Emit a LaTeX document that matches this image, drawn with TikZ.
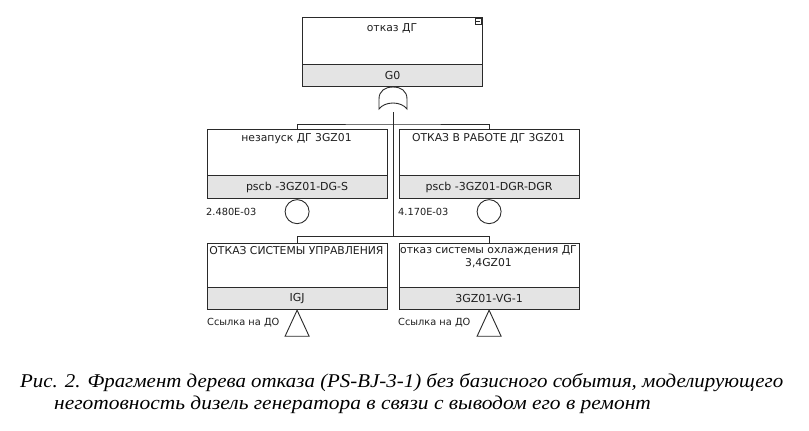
\documentclass[tikz,border=0pt]{standalone}
\usepackage{fontspec}
\setmainfont{Liberation Serif}
\newfontfamily\boxfont{DejaVu Sans}
\definecolor{boxline}{HTML}{2A2A2A}
\definecolor{idfill}{HTML}{E4E4E4}
\definecolor{txt}{HTML}{1E1E1E}
\begin{document}
\begin{tikzpicture}[x=1pt,y=-1pt,
  upper/.style={draw=boxline, line width=1.2pt, fill=white, inner sep=0pt, anchor=north west, minimum width=180pt},
  lower/.style={draw=boxline, line width=1.2pt, fill=idfill, inner sep=0pt, anchor=north west, minimum width=180pt, font=\boxfont\fontsize{11}{12}\selectfont, text=txt},
  lbl/.style={inner sep=0pt, font=\boxfont\fontsize{10.8}{13.5}\selectfont, text=txt, align=center},
  side/.style={inner sep=0pt, font=\boxfont\fontsize{9.8}{11}\selectfont, text=txt},
  conn/.style={draw=boxline, line width=0.9pt},
  basic/.style={circle, draw=boxline, line width=0.9pt, fill=white, minimum size=24pt, inner sep=0pt, anchor=north},
  gatestyle/.style={draw=boxline, line width=0.9pt, fill=white},
  captext/.style={inner sep=0pt, anchor=base west, font=\fontsize{19.5}{22}\selectfont\itshape, text=black}
]
\useasboundingbox (0,0) rectangle (809,431);
\fill[white] (0,0) rectangle (809,431);

% coordinates for connector junctions
\coordinate (gin) at (393,112);
\coordinate (bar1) at (393,124);
\coordinate (bar2) at (393,236.5);

% connectors
\draw[conn] (gin) -- (bar2);

% top event
\node[upper, minimum height=47pt] (g0) at (302,17) {};
\node[lower, minimum height=22pt] (g0id) at (302,64) {G0};
\node[lbl] (g0t) at (392,28) {отказ ДГ};
\node[draw=boxline, line width=0.6pt, minimum size=6pt, inner sep=0pt, anchor=north east] (g0min) at (481.5,17.5) {};
\draw[boxline, line width=0.6pt] ([xshift=1.5pt]g0min.west) -- ([xshift=-1.5pt]g0min.east);

% OR gate
\coordinate (gtop) at (393,87);
\draw[gatestyle] (379,109) -- (379,99) .. controls (379,91) and (385,87) .. (gtop)
  .. controls (401,87) and (407,91) .. (407,99) -- (407,109)
  .. controls (401,101) and (385,101) .. (379,109) -- cycle;

% middle row
\node[upper, minimum height=46pt] (a1) at (206.5,129) {};
\node[lower, minimum height=23pt] (a1id) at (206.5,175) {pscb -3GZ01-DG-S};
\node[lbl] (a1t) at (296.5,138.5) {незапуск ДГ 3GZ01};
\node[basic] (a1c) at (a1id.south) {};
\node[side, anchor=west] (a1p) at (206,212) {2.480E-03};

\node[upper, minimum height=46pt] (a2) at (398.5,129) {};
\node[lower, minimum height=23pt] (a2id) at (398.5,175) {pscb -3GZ01-DGR-DGR};
\node[lbl] (a2t) at (488.5,138.5) {ОТКАЗ В РАБОТЕ ДГ 3GZ01};
\node[basic] (a2c) at (a2id.south) {};
\node[side, anchor=west] (a2p) at (398,212) {4.170E-03};

\draw[conn] (a1.north) |- (bar1) -| (a2.north);

% bottom row
\node[upper, minimum height=44pt] (b1) at (206.5,243) {};
\node[lower, minimum height=22pt] (b1id) at (206.5,287) {IGJ};
\node[lbl] (b1t) at (296.5,251) {ОТКАЗ СИСТЕМЫ УПРАВЛЕНИЯ};
\draw[conn, fill=white] (b1id.south) -- ++(-12,26) -- ++(24,0) -- cycle;
\node[side, anchor=west] (b1r) at (207,323) {Ссылка на ДО};

\node[upper, minimum height=44pt] (b2) at (398.5,243) {};
\node[lower, minimum height=22pt] (b2id) at (398.5,287) {3GZ01-VG-1};
\node[lbl, anchor=north] (b2t) at (488.5,245) {отказ системы охлаждения ДГ\\3,4GZ01};
\draw[conn, fill=white] (b2id.south) -- ++(-12,26) -- ++(24,0) -- cycle;
\node[side, anchor=west] (b2r) at (398,323) {Ссылка на ДО};

\draw[conn] (b1.north) |- (bar2) -| (b2.north);

% caption
\node[captext] (cap1) at (20,387) {\scalebox{1.072}[1]{Рис. 2. Фрагмент дерева отказа (PS-BJ-3-1) без базисного события, моделирующего}};
\node[captext] (cap2) at (54,409) {\scalebox{1.10}[1]{неготовность дизель генератора в связи с выводом его в ремонт}};
\end{tikzpicture}
\end{document}
